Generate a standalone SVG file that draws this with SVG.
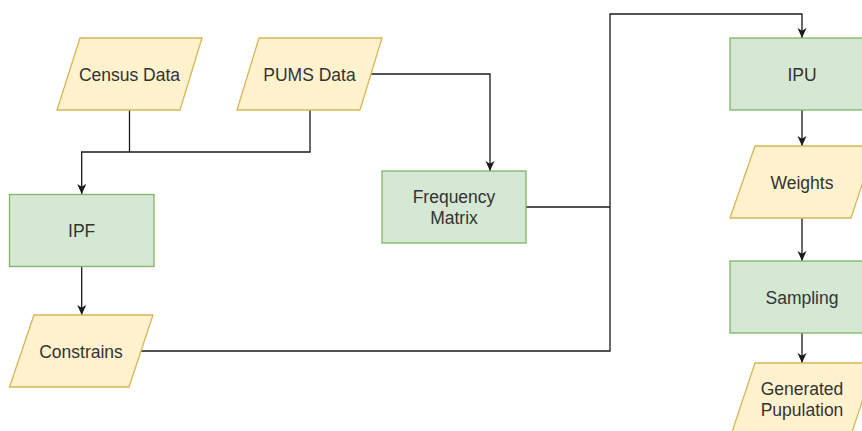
<svg xmlns="http://www.w3.org/2000/svg" width="862" height="431" viewBox="0 0 862 431">
  <style>
    .proc { fill: #d5e8d4; stroke: #82b366; stroke-width: 1.3; }
    .data { fill: #fff2cc; stroke: #d6b656; stroke-width: 1.3; }
    .lbl { font-family: "Liberation Sans", Arial, sans-serif; font-size: 17.5px; fill: #333333; text-anchor: middle; }
    .edge { fill: none; stroke: #1a1a1a; stroke-width: 1.3; }
    .edge.arrow { marker-end: url(#arrowhead); }
  </style>
  <defs>
    <marker id="arrowhead" markerUnits="userSpaceOnUse" markerWidth="12" markerHeight="10" refX="10" refY="4.5" orient="auto">
      <path d="M0,0 L10,4.5 L0,9 L2.7,4.5 Z" fill="#1a1a1a"/>
    </marker>
  </defs>
  <rect width="862" height="431" fill="#ffffff"/>

  <!-- connectors -->
  <g id="connectors">
    <path class="edge" d="M129.5,110 V152"/>
    <path class="edge arrow" d="M310,110 V152 H81.7 V194"/>
    <path class="edge arrow" d="M371,74 H490 V171"/>
    <path class="edge arrow" d="M81.7,266.5 V315"/>
    <path class="edge" d="M526,207 H610"/>
    <path class="edge arrow" d="M141,351 H610 V14 H802 V38"/>
    <path class="edge arrow" d="M802,110 V146"/>
    <path class="edge arrow" d="M802,218 V261"/>
    <path class="edge arrow" d="M802,333 V363"/>
  </g>

  <!-- inputs -->
  <g id="census-data">
    <polygon class="data" points="80,38 202,38 180,110 57,110"/>
    <text class="lbl" x="129.5" y="80.5">Census Data</text>
  </g>
  <g id="pums-data">
    <polygon class="data" points="259,38 382,38 360,110 237,110"/>
    <text class="lbl" x="309.5" y="80.5">PUMS Data</text>
  </g>

  <!-- IPF branch -->
  <g id="ipf">
    <rect class="proc" x="9.5" y="194.5" width="144.5" height="72"/>
    <text class="lbl" x="81.7" y="237">IPF</text>
  </g>
  <g id="constrains">
    <polygon class="data" points="34,315 153,315 129,387 9.5,387"/>
    <text class="lbl" x="81" y="357.5">Constrains</text>
  </g>

  <!-- frequency matrix -->
  <g id="frequency-matrix">
    <rect class="proc" x="382" y="171" width="144" height="72"/>
    <text class="lbl" x="454" y="203">Frequency</text>
    <text class="lbl" x="454" y="223.5">Matrix</text>
  </g>

  <!-- IPU branch -->
  <g id="ipu">
    <rect class="proc" x="730" y="38" width="144" height="72"/>
    <text class="lbl" x="802" y="80.5">IPU</text>
  </g>
  <g id="weights">
    <polygon class="data" points="755,146 875,146 851,218 730,218"/>
    <text class="lbl" x="802" y="188.5">Weights</text>
  </g>
  <g id="sampling">
    <rect class="proc" x="730" y="261" width="144" height="72"/>
    <text class="lbl" x="802" y="303.5">Sampling</text>
  </g>
  <g id="generated-population">
    <polygon class="data" points="755,363 875,363 851,435 731,435"/>
    <text class="lbl" x="802" y="395.3">Generated</text>
    <text class="lbl" x="802" y="415.7">Pupulation</text>
  </g>
</svg>
